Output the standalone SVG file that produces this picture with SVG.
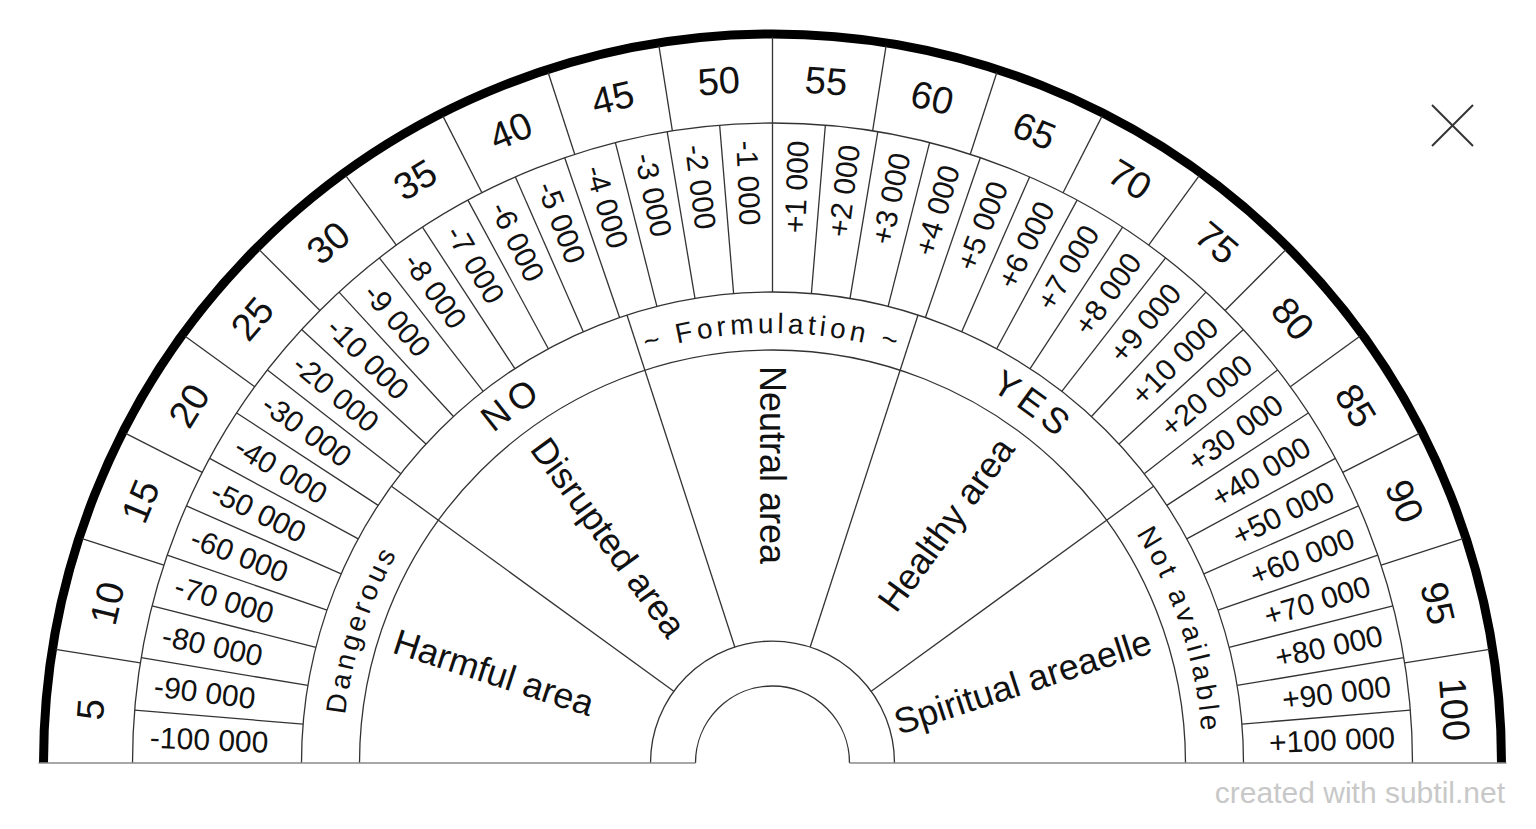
<svg xmlns="http://www.w3.org/2000/svg" xmlns:xlink="http://www.w3.org/1999/xlink" width="1536" height="829" viewBox="0 0 1536 829">
<style>
.ln{stroke:#333;stroke-width:1.3;fill:none}
.thick{stroke:#000;stroke-width:9;fill:none}
.base{stroke:#8a8a8a;stroke-width:1.6;fill:none}
text{font-family:"Liberation Sans",Arial,sans-serif;fill:#111}
.n1{font-size:38px;text-anchor:middle;dominant-baseline:central}
.n2l{font-size:30px;text-anchor:start;dominant-baseline:central}
.n2r{font-size:30px;text-anchor:end;dominant-baseline:central}
.r3{font-size:28px;letter-spacing:4px;text-anchor:middle}
.r3b{font-size:36px;letter-spacing:5px;text-anchor:middle}
.r4l{font-size:36px;text-anchor:start;dominant-baseline:central}
.r4r{font-size:36px;text-anchor:end;dominant-baseline:central}
.wm{font-size:30px;fill:#c8c8c8;text-anchor:end}
</style>
<defs>
<path id="p24" d="M -430 0 A 430 430 0 0 1 430 0"/>
<path id="p32" d="M -432 0 A 432 432 0 0 1 432 0"/>
</defs>
<rect width="1536" height="829" fill="#fff"/>
<g id="dial" transform="translate(772.5,763)">
<g id="connectors">
<path class="thick" d="M -729 0 A 729 729 0 0 1 729 0"/>
<path class="ln" d="M -640 0 A 640 640 0 0 1 640 0"/>
<path class="ln" d="M -471 0 A 471 471 0 0 1 471 0"/>
<path class="ln" d="M -413 0 A 413 413 0 0 1 413 0"/>
<path class="ln" d="M -122 0 A 122 122 0 0 1 122 0"/>
<path class="ln" d="M -77 0 A 77 77 0 0 1 77 0"/>
<path class="base" d="M -734 0 H -77 M 77 0 H 734"/>
<g id="ring1-rays">
<line class="ln" x1="-640" y1="0" x2="-726" y2="0" transform="rotate(9)"/>
<line class="ln" x1="-640" y1="0" x2="-726" y2="0" transform="rotate(18)"/>
<line class="ln" x1="-640" y1="0" x2="-726" y2="0" transform="rotate(27)"/>
<line class="ln" x1="-640" y1="0" x2="-726" y2="0" transform="rotate(36)"/>
<line class="ln" x1="-640" y1="0" x2="-726" y2="0" transform="rotate(45)"/>
<line class="ln" x1="-640" y1="0" x2="-726" y2="0" transform="rotate(54)"/>
<line class="ln" x1="-640" y1="0" x2="-726" y2="0" transform="rotate(63)"/>
<line class="ln" x1="-640" y1="0" x2="-726" y2="0" transform="rotate(72)"/>
<line class="ln" x1="-640" y1="0" x2="-726" y2="0" transform="rotate(81)"/>
<line class="ln" x1="-640" y1="0" x2="-726" y2="0" transform="rotate(90)"/>
<line class="ln" x1="-640" y1="0" x2="-726" y2="0" transform="rotate(99)"/>
<line class="ln" x1="-640" y1="0" x2="-726" y2="0" transform="rotate(108)"/>
<line class="ln" x1="-640" y1="0" x2="-726" y2="0" transform="rotate(117)"/>
<line class="ln" x1="-640" y1="0" x2="-726" y2="0" transform="rotate(126)"/>
<line class="ln" x1="-640" y1="0" x2="-726" y2="0" transform="rotate(135)"/>
<line class="ln" x1="-640" y1="0" x2="-726" y2="0" transform="rotate(144)"/>
<line class="ln" x1="-640" y1="0" x2="-726" y2="0" transform="rotate(153)"/>
<line class="ln" x1="-640" y1="0" x2="-726" y2="0" transform="rotate(162)"/>
<line class="ln" x1="-640" y1="0" x2="-726" y2="0" transform="rotate(171)"/>
</g>
<g id="ring2-rays">
<line class="ln" x1="-471" y1="0" x2="-640" y2="0" transform="rotate(4.7368)"/>
<line class="ln" x1="-471" y1="0" x2="-640" y2="0" transform="rotate(9.4737)"/>
<line class="ln" x1="-471" y1="0" x2="-640" y2="0" transform="rotate(14.2105)"/>
<line class="ln" x1="-471" y1="0" x2="-640" y2="0" transform="rotate(18.9474)"/>
<line class="ln" x1="-471" y1="0" x2="-640" y2="0" transform="rotate(23.6842)"/>
<line class="ln" x1="-471" y1="0" x2="-640" y2="0" transform="rotate(28.4211)"/>
<line class="ln" x1="-471" y1="0" x2="-640" y2="0" transform="rotate(33.1579)"/>
<line class="ln" x1="-471" y1="0" x2="-640" y2="0" transform="rotate(37.8947)"/>
<line class="ln" x1="-471" y1="0" x2="-640" y2="0" transform="rotate(42.6316)"/>
<line class="ln" x1="-471" y1="0" x2="-640" y2="0" transform="rotate(47.3684)"/>
<line class="ln" x1="-471" y1="0" x2="-640" y2="0" transform="rotate(52.1053)"/>
<line class="ln" x1="-471" y1="0" x2="-640" y2="0" transform="rotate(56.8421)"/>
<line class="ln" x1="-471" y1="0" x2="-640" y2="0" transform="rotate(61.5789)"/>
<line class="ln" x1="-471" y1="0" x2="-640" y2="0" transform="rotate(66.3158)"/>
<line class="ln" x1="-471" y1="0" x2="-640" y2="0" transform="rotate(71.0526)"/>
<line class="ln" x1="-471" y1="0" x2="-640" y2="0" transform="rotate(75.7895)"/>
<line class="ln" x1="-471" y1="0" x2="-640" y2="0" transform="rotate(80.5263)"/>
<line class="ln" x1="-471" y1="0" x2="-640" y2="0" transform="rotate(85.2632)"/>
<line class="ln" x1="-471" y1="0" x2="-640" y2="0" transform="rotate(90)"/>
<line class="ln" x1="-471" y1="0" x2="-640" y2="0" transform="rotate(94.7368)"/>
<line class="ln" x1="-471" y1="0" x2="-640" y2="0" transform="rotate(99.4737)"/>
<line class="ln" x1="-471" y1="0" x2="-640" y2="0" transform="rotate(104.2105)"/>
<line class="ln" x1="-471" y1="0" x2="-640" y2="0" transform="rotate(108.9474)"/>
<line class="ln" x1="-471" y1="0" x2="-640" y2="0" transform="rotate(113.6842)"/>
<line class="ln" x1="-471" y1="0" x2="-640" y2="0" transform="rotate(118.4211)"/>
<line class="ln" x1="-471" y1="0" x2="-640" y2="0" transform="rotate(123.1579)"/>
<line class="ln" x1="-471" y1="0" x2="-640" y2="0" transform="rotate(127.8947)"/>
<line class="ln" x1="-471" y1="0" x2="-640" y2="0" transform="rotate(132.6316)"/>
<line class="ln" x1="-471" y1="0" x2="-640" y2="0" transform="rotate(137.3684)"/>
<line class="ln" x1="-471" y1="0" x2="-640" y2="0" transform="rotate(142.1053)"/>
<line class="ln" x1="-471" y1="0" x2="-640" y2="0" transform="rotate(146.8421)"/>
<line class="ln" x1="-471" y1="0" x2="-640" y2="0" transform="rotate(151.5789)"/>
<line class="ln" x1="-471" y1="0" x2="-640" y2="0" transform="rotate(156.3158)"/>
<line class="ln" x1="-471" y1="0" x2="-640" y2="0" transform="rotate(161.0526)"/>
<line class="ln" x1="-471" y1="0" x2="-640" y2="0" transform="rotate(165.7895)"/>
<line class="ln" x1="-471" y1="0" x2="-640" y2="0" transform="rotate(170.5263)"/>
<line class="ln" x1="-471" y1="0" x2="-640" y2="0" transform="rotate(175.2632)"/>
</g>
<g id="ring3-rays">
<line class="ln" x1="-413" y1="0" x2="-471" y2="0" transform="rotate(36)"/>
<line class="ln" x1="-413" y1="0" x2="-471" y2="0" transform="rotate(72)"/>
<line class="ln" x1="-413" y1="0" x2="-471" y2="0" transform="rotate(108)"/>
<line class="ln" x1="-413" y1="0" x2="-471" y2="0" transform="rotate(144)"/>
</g>
<g id="ring4-rays">
<line class="ln" x1="-122" y1="0" x2="-413" y2="0" transform="rotate(36)"/>
<line class="ln" x1="-122" y1="0" x2="-413" y2="0" transform="rotate(72)"/>
<line class="ln" x1="-122" y1="0" x2="-413" y2="0" transform="rotate(108)"/>
<line class="ln" x1="-122" y1="0" x2="-413" y2="0" transform="rotate(144)"/>
</g>
</g>
<g id="ring1-labels">
<text class="n1" transform="rotate(4.5) translate(-684 0) rotate(-90)">5</text>
<text class="n1" transform="rotate(13.5) translate(-684 0) rotate(-90)">10</text>
<text class="n1" transform="rotate(22.5) translate(-684 0) rotate(-90)">15</text>
<text class="n1" transform="rotate(31.5) translate(-684 0) rotate(-90)">20</text>
<text class="n1" transform="rotate(40.5) translate(-684 0) rotate(-90)">25</text>
<text class="n1" transform="rotate(49.5) translate(-684 0) rotate(-90)">30</text>
<text class="n1" transform="rotate(58.5) translate(-684 0) rotate(-90)">35</text>
<text class="n1" transform="rotate(67.5) translate(-684 0) rotate(-90)">40</text>
<text class="n1" transform="rotate(76.5) translate(-684 0) rotate(-90)">45</text>
<text class="n1" transform="rotate(85.5) translate(-684 0) rotate(-90)">50</text>
<text class="n1" transform="rotate(94.5) translate(-684 0) rotate(-90)">55</text>
<text class="n1" transform="rotate(103.5) translate(-684 0) rotate(-90)">60</text>
<text class="n1" transform="rotate(112.5) translate(-684 0) rotate(-90)">65</text>
<text class="n1" transform="rotate(121.5) translate(-684 0) rotate(-90)">70</text>
<text class="n1" transform="rotate(130.5) translate(-684 0) rotate(-90)">75</text>
<text class="n1" transform="rotate(139.5) translate(-684 0) rotate(-90)">80</text>
<text class="n1" transform="rotate(148.5) translate(-684 0) rotate(-90)">85</text>
<text class="n1" transform="rotate(157.5) translate(-684 0) rotate(-90)">90</text>
<text class="n1" transform="rotate(166.5) translate(-684 0) rotate(-90)">95</text>
<text class="n1" transform="rotate(175.5) translate(-684 0) rotate(-90)">100</text>
</g>
<g id="ring2-labels">
<text class="n2l" transform="rotate(2.3684) translate(-623 0)">-100 000</text>
<text class="n2l" transform="rotate(7.1053) translate(-623 0)">-90 000</text>
<text class="n2l" transform="rotate(11.8421) translate(-623 0)">-80 000</text>
<text class="n2l" transform="rotate(16.5789) translate(-623 0)">-70 000</text>
<text class="n2l" transform="rotate(21.3158) translate(-623 0)">-60 000</text>
<text class="n2l" transform="rotate(26.0526) translate(-623 0)">-50 000</text>
<text class="n2l" transform="rotate(30.7895) translate(-623 0)">-40 000</text>
<text class="n2l" transform="rotate(35.5263) translate(-623 0)">-30 000</text>
<text class="n2l" transform="rotate(40.2632) translate(-623 0)">-20 000</text>
<text class="n2l" transform="rotate(45) translate(-623 0)">-10 000</text>
<text class="n2l" transform="rotate(49.7368) translate(-623 0)">-9 000</text>
<text class="n2l" transform="rotate(54.4737) translate(-623 0)">-8 000</text>
<text class="n2l" transform="rotate(59.2105) translate(-623 0)">-7 000</text>
<text class="n2l" transform="rotate(63.9474) translate(-623 0)">-6 000</text>
<text class="n2l" transform="rotate(68.6842) translate(-623 0)">-5 000</text>
<text class="n2l" transform="rotate(73.4211) translate(-623 0)">-4 000</text>
<text class="n2l" transform="rotate(78.1579) translate(-623 0)">-3 000</text>
<text class="n2l" transform="rotate(82.8947) translate(-623 0)">-2 000</text>
<text class="n2l" transform="rotate(87.6316) translate(-623 0)">-1 000</text>
<text class="n2r" transform="rotate(92.3684) translate(-623 0) rotate(180)">+1 000</text>
<text class="n2r" transform="rotate(97.1053) translate(-623 0) rotate(180)">+2 000</text>
<text class="n2r" transform="rotate(101.8421) translate(-623 0) rotate(180)">+3 000</text>
<text class="n2r" transform="rotate(106.5789) translate(-623 0) rotate(180)">+4 000</text>
<text class="n2r" transform="rotate(111.3158) translate(-623 0) rotate(180)">+5 000</text>
<text class="n2r" transform="rotate(116.0526) translate(-623 0) rotate(180)">+6 000</text>
<text class="n2r" transform="rotate(120.7895) translate(-623 0) rotate(180)">+7 000</text>
<text class="n2r" transform="rotate(125.5263) translate(-623 0) rotate(180)">+8 000</text>
<text class="n2r" transform="rotate(130.2632) translate(-623 0) rotate(180)">+9 000</text>
<text class="n2r" transform="rotate(135) translate(-623 0) rotate(180)">+10 000</text>
<text class="n2r" transform="rotate(139.7368) translate(-623 0) rotate(180)">+20 000</text>
<text class="n2r" transform="rotate(144.4737) translate(-623 0) rotate(180)">+30 000</text>
<text class="n2r" transform="rotate(149.2105) translate(-623 0) rotate(180)">+40 000</text>
<text class="n2r" transform="rotate(153.9474) translate(-623 0) rotate(180)">+50 000</text>
<text class="n2r" transform="rotate(158.6842) translate(-623 0) rotate(180)">+60 000</text>
<text class="n2r" transform="rotate(163.4211) translate(-623 0) rotate(180)">+70 000</text>
<text class="n2r" transform="rotate(168.1579) translate(-623 0) rotate(180)">+80 000</text>
<text class="n2r" transform="rotate(172.8947) translate(-623 0) rotate(180)">+90 000</text>
<text class="n2r" transform="rotate(177.6316) translate(-623 0) rotate(180)">+100 000</text>
</g>
<g id="ring3-labels">
<g id="dangerous"><text class="r3"><textPath xlink:href="#p24" href="#p24" startOffset="10%">Dangerous</textPath></text></g>
<g id="no"><text class="r3b"><textPath xlink:href="#p32" href="#p32" startOffset="30%">NO</textPath></text></g>
<g id="formulation"><text class="r3"><textPath xlink:href="#p24" href="#p24" startOffset="50%">~ Formulation ~</textPath></text></g>
<g id="yes"><text class="r3b"><textPath xlink:href="#p32" href="#p32" startOffset="70%">YES</textPath></text></g>
<g id="not-available"><text class="r3"><textPath xlink:href="#p24" href="#p24" startOffset="90%">Not available</textPath></text></g>
</g>
<g id="ring4-labels">
<g id="harmful"><text class="r4l" transform="rotate(18) translate(-397 0)">Harmful area</text></g>
<g id="disrupted"><text class="r4l" transform="rotate(54) translate(-397 0)">Disrupted area</text></g>
<g id="neutral"><text class="r4l" transform="rotate(90) translate(-397 0)">Neutral area</text></g>
<g id="healthy"><text class="r4r" transform="rotate(126) translate(-397 0) rotate(180)">Healthy area</text></g>
<g id="spiritual"><text class="r4r" transform="rotate(162) translate(-397 0) rotate(180)">Spiritual areaelle</text></g>
</g>
</g>
<g id="close-icon">
<line class="ln" x1="1432" y1="105" x2="1473" y2="146" style="stroke-width:2"/>
<line class="ln" x1="1473" y1="105" x2="1432" y2="146" style="stroke-width:2"/>
</g>
<text class="wm" x="1505" y="803">created with subtil.net</text>
</svg>
